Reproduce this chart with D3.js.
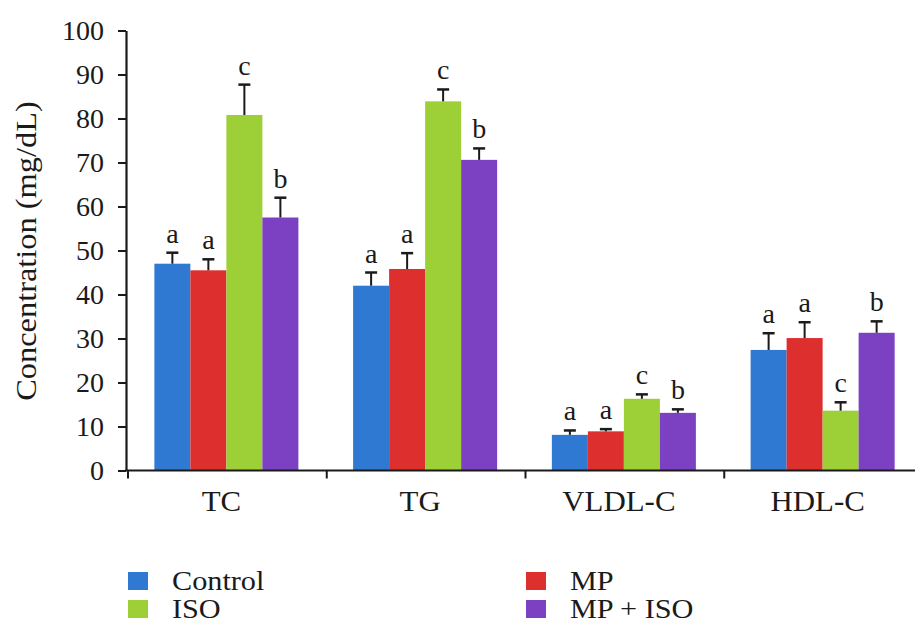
<!DOCTYPE html>
<html>
<head>
<meta charset="utf-8">
<script src="https://cdn.jsdelivr.net/npm/d3@7"></script>
<style>
  html, body { margin: 0; padding: 0; background: #fff; }
  svg { display: block; }
  text { font-family: "Liberation Serif", "Times New Roman", serif; fill: #1a1a1a; }
</style>
</head>
<body>
<svg id="chart" width="915" height="633"></svg>
<script>
const categories = ["TC", "TG", "VLDL-C", "HDL-C"];
const seriesNames = ["Control", "MP", "ISO", "MP + ISO"];
const seriesColors = ["#2f79d3", "#de2f2f", "#9dcf36", "#7b41c2"];
// values[series][category]
const meanValues = [
  [47.0, 42.0, 8.1, 27.4],
  [45.5, 45.8, 8.9, 30.1],
  [80.8, 83.9, 16.3, 13.6],
  [57.5, 70.6, 13.1, 31.3]
];
const upperValues = [
  [49.5, 45.0, 9.1, 31.2],
  [48.0, 49.4, 9.4, 33.7],
  [87.7, 86.6, 17.3, 15.5],
  [62.0, 73.2, 13.9, 33.9]
];
const sigLetters = [
  ["a", "a", "a", "a"],
  ["a", "a", "a", "a"],
  ["c", "c", "c", "c"],
  ["b", "b", "b", "b"]
];
const yTicks = [0, 10, 20, 30, 40, 50, 60, 70, 80, 90, 100];
const yTitle = "Concentration (mg/dL)";

const svg = d3.select("#chart");

const y = d3.scaleLinear().domain([0, 100]).range([470.5, 30.5]);
const x0 = d3.scaleBand().domain(categories).range([127, 922]).padding(0);
const x1 = d3.scaleBand().domain(seriesNames).range([0, x0.bandwidth()]).paddingInner(0).paddingOuter(0.76);

// Bars
categories.forEach((cat, ci) => {
  seriesNames.forEach((s, si) => {
    const bx = x0(cat) + x1(s);
    svg.append("rect")
      .attr("x", bx)
      .attr("y", y(meanValues[si][ci]))
      .attr("width", x1.bandwidth())
      .attr("height", y(0) - y(meanValues[si][ci]))
      .attr("fill", seriesColors[si]);
    const cx = bx + x1.bandwidth() / 2;
    // error bar (upper only)
    svg.append("line")
      .attr("x1", cx).attr("x2", cx)
      .attr("y1", y(meanValues[si][ci])).attr("y2", y(upperValues[si][ci]))
      .attr("stroke", "#1a1a1a").attr("stroke-width", 2);
    svg.append("line")
      .attr("x1", cx - 6).attr("x2", cx + 6)
      .attr("y1", y(upperValues[si][ci])).attr("y2", y(upperValues[si][ci]))
      .attr("stroke", "#1a1a1a").attr("stroke-width", 2.5);
    svg.append("text")
      .attr("transform", `translate(${cx},${y(upperValues[si][ci]) - 10})`)
      .attr("text-anchor", "middle")
      .attr("font-size", 28)
      .text(sigLetters[si][ci]);
  });
});

// Y axis
const yAxis = d3.axisLeft(y).tickValues(yTicks).tickSize(8).tickSizeOuter(0).tickFormat(d3.format("d"));
const gy = svg.append("g").attr("transform", "translate(126,0)").call(yAxis);
gy.select(".domain").attr("stroke", "#1a1a1a").attr("stroke-width", 2.2);
gy.selectAll(".tick line").attr("stroke", "#1a1a1a").attr("stroke-width", 2);
gy.selectAll(".tick text").remove();
yTicks.forEach(t => {
  svg.append("text")
    .attr("transform", `translate(104,${y(t) + 9.5})`)
    .attr("text-anchor", "end")
    .attr("font-size", 28)
    .text(t);
});

// X axis
svg.append("line")
  .attr("x1", 125).attr("x2", 915)
  .attr("y1", y(0)).attr("y2", y(0))
  .attr("stroke", "#1a1a1a").attr("stroke-width", 2.2);
categories.forEach(cat => {
  const tx = x0(cat) + 1;
  svg.append("line")
    .attr("x1", tx).attr("x2", tx)
    .attr("y1", y(0)).attr("y2", y(0) + 8)
    .attr("stroke", "#1a1a1a").attr("stroke-width", 2);
  svg.append("text")
    .attr("transform", `translate(${x0(cat) + x0.bandwidth() / 2 - 5},511) scale(1.03,1)`)
    .attr("text-anchor", "middle")
    .attr("font-size", 30)
    .text(cat);
});

// Y title
svg.append("text")
  .attr("transform", `translate(36,251) rotate(-90) scale(1.08,1)`)
  .attr("text-anchor", "middle")
  .attr("font-size", 30)
  .text(yTitle);

// Legend
const legendPos = [[128, 572], [526, 572], [128, 600], [526, 600]];
seriesNames.forEach((s, i) => {
  const [lx, ly] = legendPos[i];
  svg.append("rect")
    .attr("x", lx).attr("y", ly)
    .attr("width", 20).attr("height", 18)
    .attr("fill", seriesColors[i]);
  svg.append("text")
    .attr("transform", `translate(${lx + 44},${ly + 18}) scale(1.08,1)`)
    .attr("font-size", 28)
    .text(s);
});
</script>
</body>
</html>
